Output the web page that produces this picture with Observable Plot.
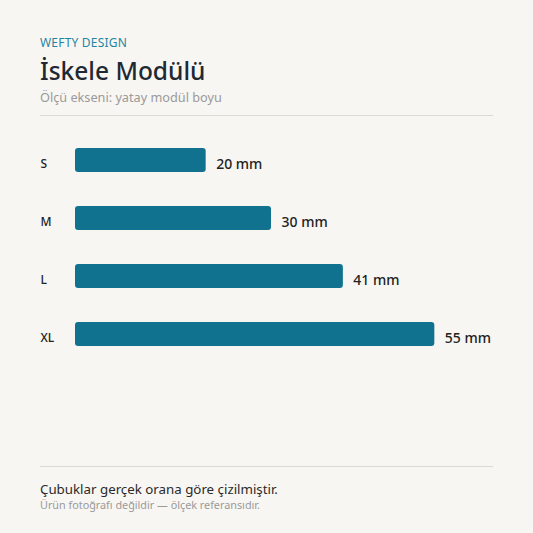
<!DOCTYPE html>
<html>
<head>
<meta charset="utf-8">
<script src="https://cdn.jsdelivr.net/npm/d3@7"></script>
<script src="https://cdn.jsdelivr.net/npm/@observablehq/plot@0.6"></script>
<style>
  html, body { margin: 0; padding: 0; background: #f8f6f2; }
  body { width: 533px; height: 533px; position: relative; overflow: hidden; font-family: "Noto Sans", "Open Sans", sans-serif; }
  .abs { position: absolute; left: 40px; white-space: nowrap; }
  #brand { top: 35px; font-size: 12px; line-height: 16px; color: #1f86a3; letter-spacing: 0.2px; }
  #title { top: 55px; font-size: 24.5px; line-height: 32px; font-weight: 500; color: #1f2933; }
  #subtitle { top: 88px; font-size: 12.7px; line-height: 18px; color: #9a9a9a; }
  .rule { position: absolute; left: 40px; width: 453px; height: 1px; background: #dcdad5; }
  #chart { position: absolute; left: 40px; top: 116px; }
  #cap1 { top: 480px; font-size: 13.3px; line-height: 18px; color: #2a2a2a; }
  #cap2 { top: 497px; font-size: 10.8px; line-height: 16px; color: #9a9a9a; }
</style>
</head>
<body>
<div class="abs" id="brand">WEFTY DESIGN</div>
<div class="abs" id="title">İskele Modülü</div>
<div class="abs" id="subtitle">Ölçü ekseni: yatay modül boyu</div>
<div class="rule" style="top:115px"></div>
<div id="chart"></div>
<div class="rule" style="top:466px"></div>
<div class="abs" id="cap1">Çubuklar gerçek orana göre çizilmiştir.</div>
<div class="abs" id="cap2">Ürün fotoğrafı değildir — ölçek referansıdır.</div>
<script>
const sizes = ["S", "M", "L", "XL"];
const lengths = [20, 30, 41, 55];
const unit = "mm";

const data = sizes.map((s, i) => ({size: s, length: lengths[i], label: `${lengths[i]} ${unit}`}));

const chart = Plot.plot({
  width: 453,
  height: 350,
  marginLeft: 35,
  marginRight: 26,
  marginTop: 0,
  marginBottom: 0,
  style: {background: "transparent", fontFamily: "'Noto Sans', 'Open Sans', sans-serif"},
  x: {domain: [0, 60], axis: null},
  y: {domain: sizes, range: [31, 231], paddingInner: 0.59, paddingOuter: 0, axis: null},
  marks: [
    Plot.barX(data, {y: "size", x: "length", fill: "#10728f", rx: 3}),
    Plot.text(data, {y: "size", x: "length", text: "label", dx: 10, dy: 4.5, textAnchor: "start", fontSize: 14, fontWeight: 500, fill: "#222"}),
    Plot.text(data, {y: "size", text: "size", frameAnchor: "left", dx: -35, dy: 4, textAnchor: "start", fontSize: 12, fontWeight: 500, fill: "#222"})
  ]
});
document.getElementById("chart").appendChild(chart);
</script>
</body>
</html>
